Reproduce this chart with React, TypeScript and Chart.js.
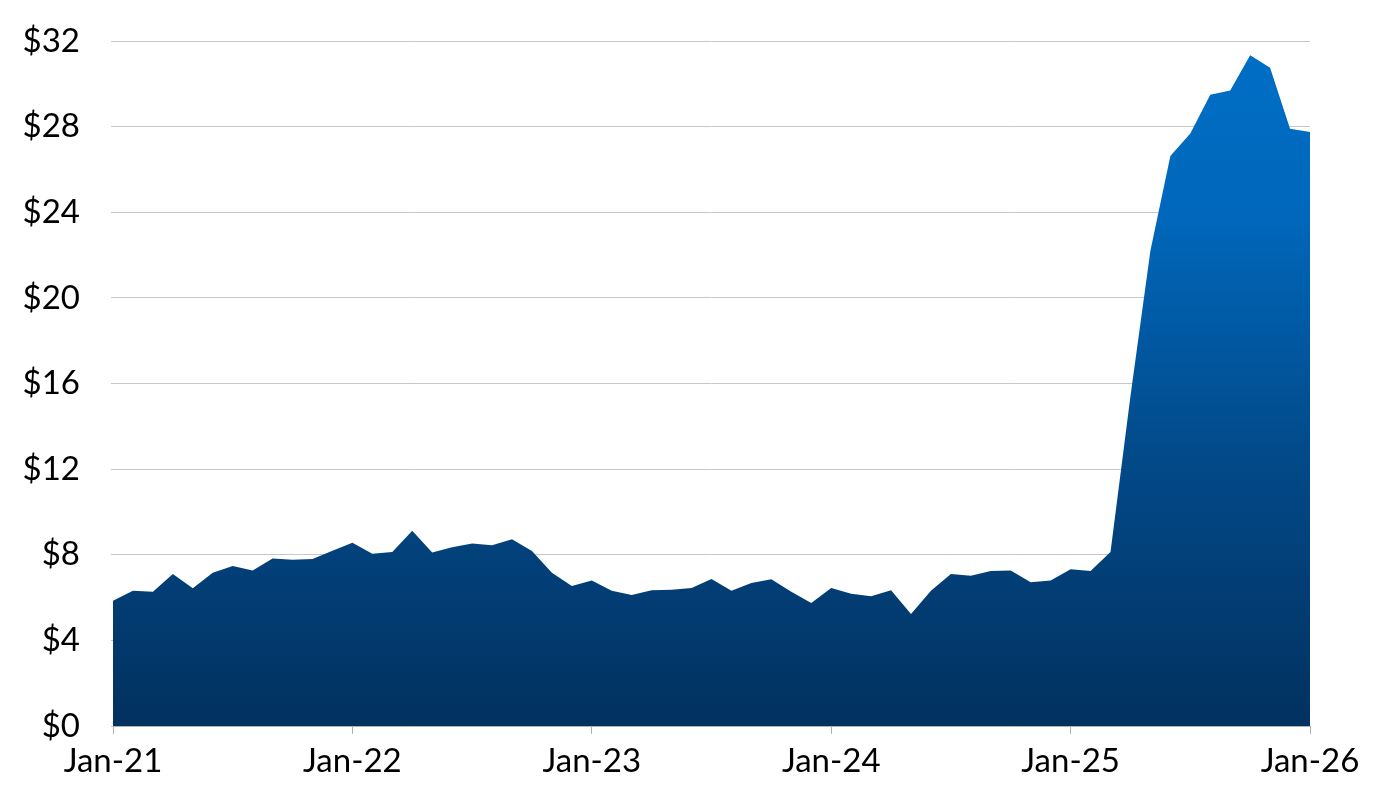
import React, { useEffect, useRef } from "react";
import { Chart, registerables } from "chart.js";

Chart.register(...registerables);

const monthNames = ["Jan", "Feb", "Mar", "Apr", "May", "Jun", "Jul", "Aug", "Sep", "Oct", "Nov", "Dec"];
const years = ["21", "22", "23", "24", "25", "26"];

const categories: string[] = [];
years.forEach((y, yi) => {
  monthNames.forEach((m, mi) => {
    if (yi < years.length - 1 || mi === 0) categories.push(`${m}-${y}`);
  });
});

const prices = [
  5.85, 6.32, 6.27, 7.1, 6.43, 7.16, 7.47, 7.26, 7.83, 7.77, 7.8, 8.19,
  8.56, 8.05, 8.13, 9.12, 8.1, 8.35, 8.52, 8.44, 8.72, 8.17, 7.16, 6.54,
  6.8, 6.32, 6.12, 6.34, 6.37, 6.45, 6.87, 6.32, 6.68, 6.85, 6.27, 5.75,
  6.45, 6.18, 6.06, 6.34, 5.23, 6.32, 7.1, 7.02, 7.24, 7.27, 6.71, 6.8,
  7.32, 7.24, 8.13, 15.4, 22.2, 26.63, 27.68, 29.49, 29.69, 31.34, 30.75, 27.9,
  27.75,
];

const yMin = 0;
const yMax = 32;
const yStep = 4;

export default function App() {
  const ref = useRef<HTMLCanvasElement | null>(null);

  useEffect(() => {
    if (!ref.current) return;
    const font = { family: "Lato", size: 33 };
    const chart = new Chart(ref.current, {
      type: "line",
      data: {
        labels: categories,
        datasets: [
          {
            data: prices,
            fill: "origin",
            borderWidth: 0,
            pointRadius: 0,
            tension: 0,
            backgroundColor: (ctx: any) => {
              const area = ctx.chart.chartArea;
              if (!area) return "#004a8a";
              const g = ctx.chart.ctx.createLinearGradient(0, area.top, 0, area.bottom);
              g.addColorStop(0, "#006ec6");
              g.addColorStop(0.25, "#0068bc");
              g.addColorStop(0.6, "#024a8a");
              g.addColorStop(1, "#02315f");
              return g;
            },
          },
        ],
      },
      options: {
        responsive: false,
        animation: false,
        maintainAspectRatio: false,
        layout: { padding: { top: 41, right: 70, left: 0, bottom: 0 } },
        plugins: { legend: { display: false }, tooltip: { enabled: false } },
        scales: {
          x: {
            type: "category",
            offset: false,
            afterBuildTicks: (scale: any) => {
              scale.ticks = scale.ticks.filter((t: any) => t.value % 12 === 0);
            },
            afterFit: (scale: any) => {
              scale.height = 74;
              scale.paddingLeft = 0;
              scale.paddingRight = 0;
            },
            ticks: {
              autoSkip: false,
              maxRotation: 0,
              minRotation: 0,
              padding: 8,
              color: "#000",
              font,
              callback: function (this: any, value: any) {
                return categories[value as number];
              },
            },
            grid: {
              drawOnChartArea: false,
              drawTicks: true,
              tickLength: 8,
              color: "#b0b0b0",
            },
            border: { display: true, color: "#b0b0b0", width: 1 },
          },
          y: {
            min: yMin,
            max: yMax,
            afterFit: (scale: any) => {
              scale.width = 113;
              scale.paddingTop = 0;
              scale.paddingBottom = 0;
            },
            ticks: {
              stepSize: yStep,
              padding: 31,
              color: "#000",
              font,
              callback: (v: any) => `$${v}`,
            },
            grid: { color: "#c8c8c8", tickLength: 2, lineWidth: 1 },
            border: { display: false },
          },
        },
      },
    });
    return () => chart.destroy();
  }, []);

  return (
    <div style={{ position: "fixed", left: 0, top: 0, width: 1380, height: 800, background: "#fff" }}>
      <canvas ref={ref} width={1380} height={800} style={{ width: 1380, height: 800 }} />
    </div>
  );
}
